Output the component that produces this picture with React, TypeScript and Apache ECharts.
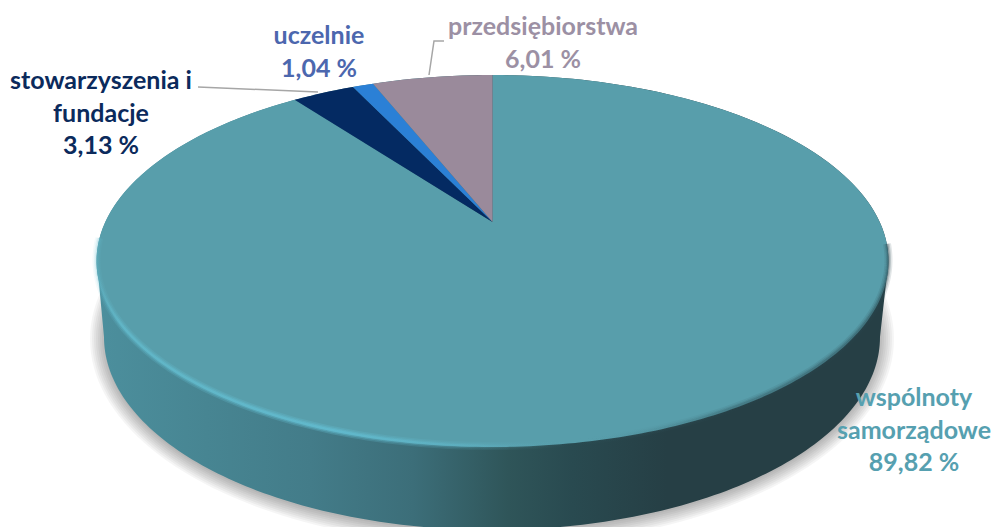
import React, { useEffect, useRef } from "react";
import * as echarts from "echarts";

const sliceNames = ["wspólnoty samorządowe", "stowarzyszenia i fundacje", "uczelnie", "przedsiębiorstwa"];
const sliceValues = [89.82, 3.13, 1.04, 6.01];
const sliceColors = ["#589eab", "#042a62", "#2b80d6", "#9a8a9b"];
const labelTexts = ["wspólnoty\nsamorządowe\n89,82 %", "stowarzyszenia i\nfundacje\n3,13 %", "uczelnie\n1,04 %", "przedsiębiorstwa\n6,01 %"];
const labelColors = ["#56a0b0", "#0b2a5c", "#4c67ae", "#9c90a4"];

// Perspective of the top face: a unit circle mapped through a homography
const CX = 492.5, APEX_Y = 222, TOP_Y = 75, BOTTOM_Y = 447, RX = 396;
const upper = APEX_Y - TOP_Y, lower = BOTTOM_Y - APEX_Y;
const persp = (upper - lower) / (BOTTOM_Y - TOP_Y);
const vScale = upper + TOP_Y * persp;
const hScale = RX * Math.sqrt(1 - persp * persp);

function topPoint(turn: number): number[] {
  const t = turn * Math.PI * 2;
  const u = Math.sin(t), v = -Math.cos(t);
  const w = 1 + persp * v;
  return [CX + (hScale * u) / w, (vScale * v + APEX_Y) / w];
}
function arc(from: number, to: number, steps: number): number[][] {
  const pts: number[][] = [];
  for (let i = 0; i <= steps; i++) pts.push(topPoint(from + ((to - from) * i) / steps));
  return pts;
}
// lower rim of the side wall
const B_CX = 492, B_CY = 337, B_RX = 388, B_RY = 193;
function wallPoints(): number[][] {
  const pts = arc(-0.3, 0.3, 120);
  pts.push([B_CX + B_RX, B_CY]);
  for (let i = 0; i <= 160; i++) {
    const a = (i / 160) * Math.PI;
    pts.push([B_CX + B_RX * Math.cos(a), B_CY + B_RY * Math.sin(a)]);
  }
  return pts;
}
function shadowPoints(grow: number): number[][] {
  const pts: number[][] = [];
  for (let i = 0; i <= 180; i++) {
    const a = (i / 180) * Math.PI * 2;
    pts.push([B_CX + (B_RX + grow) * Math.cos(a), B_CY + 2 + (B_RY + grow) * Math.sin(a)]);
  }
  return pts;
}
const shadowSteps = [14, 12, 10, 8, 6, 4, 2, 0];
const total = sliceValues.reduce((s, v) => s + v, 0);

const wallGradient = new echarts.graphic.LinearGradient(0, 0, 1, 0, [
  { offset: 0, color: "#4c8f9d" },
  { offset: 0.14, color: "#478592" },
  { offset: 0.27, color: "#437c89" },
  { offset: 0.4, color: "#3c6e79" },
  { offset: 0.52, color: "#2f5559" },
  { offset: 0.6, color: "#294a50" },
  { offset: 0.72, color: "#263f45" },
  { offset: 1, color: "#263f45" },
]);
const rimGlow = (k: number) =>
  new echarts.graphic.LinearGradient(0, 0, 1, 0, [
    { offset: 0, color: `rgba(100,190,208,${0.25 * k})` },
    { offset: 0.03, color: `rgba(100,190,208,${0.7 * k})` },
    { offset: 0.3, color: `rgba(98,188,208,${1 * k})` },
    { offset: 0.48, color: `rgba(98,188,208,${0.35 * k})` },
    { offset: 0.6, color: "rgba(88,158,171,0)" },
    { offset: 0.8, color: `rgba(40,70,78,${0.3 * k})` },
    { offset: 1, color: `rgba(40,70,78,${0.45 * k})` },
  ]);

function textEl(x: number, y: number, i: number) {
  return {
    type: "text", x, y, z: 20,
    style: {
      text: labelTexts[i], fill: labelColors[i], align: "center", verticalAlign: "top",
      font: "bold 25px Lato", lineHeight: 32.5,
    },
  };
}

export default function App() {
  const ref = useRef<HTMLDivElement>(null);
  useEffect(() => {
    const chart = echarts.init(ref.current!, null, { renderer: "svg" });
    chart.setOption({
      animation: false,
      backgroundColor: "#ffffff",
      series: [
        {
          type: "custom", coordinateSystem: "none", silent: true, z: 1, data: [1],
          renderItem: () => ({
            type: "group",
            children: [
              ...shadowSteps.map((g) => ({
                type: "polygon",
                shape: { points: shadowPoints(g) },
                style: { fill: "rgba(0,0,0,0.04)" },
              })),
              { type: "polygon", shape: { points: wallPoints() }, style: { fill: wallGradient } },
            ],
          }),
        },
        {
          type: "custom", coordinateSystem: "none", silent: true, z: 2,
          data: sliceValues.map((value, i) => ({ name: sliceNames[i], value })),
          renderItem: (params: any, api: any) => {
            let start = 0;
            for (let i = 0; i < params.dataIndex; i++) start += sliceValues[i];
            const end = start + api.value(0);
            const steps = Math.max(4, Math.round((end - start) * 4));
            return {
              type: "polygon",
              shape: { points: [[CX, APEX_Y], ...arc(start / total, end / total, steps)] },
              style: { fill: sliceColors[params.dataIndex] },
            };
          },
        },
        {
          type: "custom", coordinateSystem: "none", silent: true, z: 3, data: [1],
          renderItem: () => ({
            type: "group",
            children: [
              { type: "polyline", shape: { points: arc(0.27, 0.735, 200).map((p) => [p[0], p[1] - 1]) }, style: { fill: "none", stroke: rimGlow(0.3), lineWidth: 8 } },
              { type: "polyline", shape: { points: arc(0.27, 0.735, 200).map((p) => [p[0], p[1] - 1]) }, style: { fill: "none", stroke: rimGlow(0.45), lineWidth: 5 } },
              { type: "polyline", shape: { points: arc(0.27, 0.735, 200).map((p) => [p[0], p[1] - 1]) }, style: { fill: "none", stroke: rimGlow(0.7), lineWidth: 2.5 } },
            ],
          }),
        },
      ],
      graphic: [
        { type: "polyline", z: 15, shape: { points: [[198, 87], [318, 92]] }, style: { fill: "none", stroke: "#a6a6a6", lineWidth: 1.5 } },
        { type: "polyline", z: 15, shape: { points: [[444, 41], [434, 41], [429, 75]] }, style: { fill: "none", stroke: "#a6a6a6", lineWidth: 1.5 } },
        textEl(914, 380, 0),
        textEl(101, 63, 1),
        textEl(319, 18, 2),
        textEl(543, 9, 3),
      ],
    });
    return () => chart.dispose();
  }, []);
  return <div ref={ref} style={{ position: "fixed", left: 0, top: 0, width: 992, height: 527 }} />;
}
